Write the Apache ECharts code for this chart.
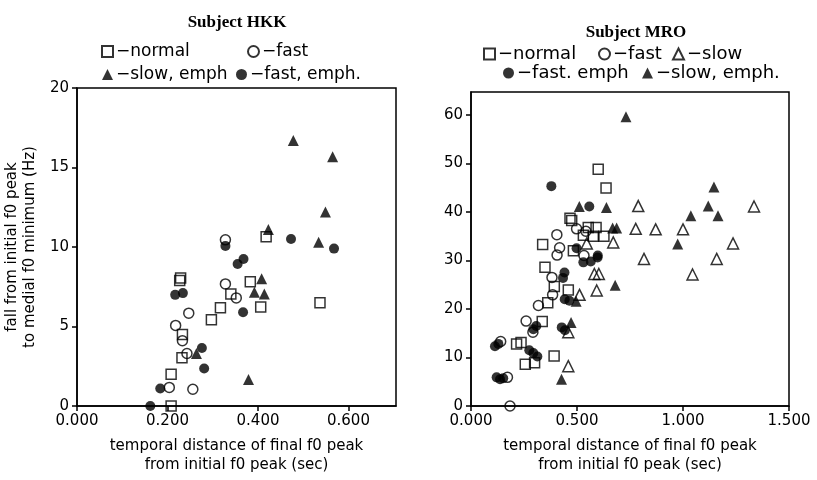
<!DOCTYPE html>
<html>
<head>
<meta charset="utf-8">
<script src="https://cdn.jsdelivr.net/npm/echarts@6/dist/echarts.min.js"></script>
<style>
  html, body { margin: 0; padding: 0; background: #fff; }
  #chart { width: 817px; height: 480px; }
</style>
</head>
<body>
<div id="chart"></div>
<script>
// Subject HKK  [temporal distance (sec), f0 fall (Hz)]
const hkkNormal = [[0.227, 7.9], [0.229, 8.05], [0.418, 10.64], [0.383, 7.82], [0.340, 7.05], [0.537, 6.49],
  [0.317, 6.18], [0.406, 6.22], [0.297, 5.43], [0.233, 4.49], [0.232, 3.03], [0.208, 2.0], [0.208, 0]]
const hkkFast = [[0.328, 10.45], [0.328, 7.68], [0.352, 6.8], [0.247, 5.84], [0.218, 5.07], [0.233, 4.11],
  [0.243, 3.3], [0.204, 1.17], [0.256, 1.05]]
const hkkSlowEmph = [[0.478, 16.7], [0.565, 15.67], [0.549, 12.2], [0.423, 11.1], [0.534, 10.3], [0.408, 8.0],
  [0.392, 7.16], [0.414, 7.05], [0.264, 3.3], [0.379, 1.67]]
const hkkFastEmph = [[0.328, 10.07], [0.473, 10.5], [0.568, 9.9], [0.355, 8.93], [0.368, 9.24], [0.217, 6.99],
  [0.234, 7.1], [0.367, 5.9], [0.276, 3.65], [0.281, 2.36], [0.184, 1.1], [0.162, 0]]

// Subject MRO
const mroNormal = [[0.600, 48.8], [0.637, 44.9], [0.467, 38.7], [0.475, 38.2], [0.553, 36.8], [0.590, 36.8],
  [0.530, 35.2], [0.577, 35.0], [0.627, 35.0], [0.338, 33.3], [0.483, 32.0], [0.349, 28.6], [0.393, 24.6],
  [0.459, 23.9], [0.362, 21.3], [0.336, 17.4], [0.215, 12.8], [0.236, 13.1], [0.392, 10.3], [0.256, 8.6], [0.300, 8.9]]
const mroFast = [[0.498, 36.5], [0.542, 36.0], [0.405, 35.3], [0.418, 32.6], [0.406, 31.1], [0.533, 31.0],
  [0.382, 26.5], [0.385, 22.9], [0.318, 20.7], [0.260, 17.5], [0.292, 15.2], [0.140, 13.3], [0.172, 5.9], [0.184, 0]]
const mroSlow = [[0.789, 41.2], [1.335, 41.1], [0.777, 36.5], [0.871, 36.4], [1.000, 36.4], [0.671, 33.7],
  [0.546, 33.5], [1.236, 33.5], [0.816, 30.3], [1.159, 30.3], [1.045, 27.1], [0.582, 27.2], [0.603, 27.2],
  [0.593, 23.8], [0.512, 22.9], [0.459, 15.2], [0.459, 8.2]]
const mroFastEmph = [[0.379, 45.3], [0.558, 41.1], [0.498, 32.5], [0.598, 31.0], [0.530, 29.6], [0.565, 29.8],
  [0.597, 30.6], [0.441, 27.5], [0.434, 26.4], [0.442, 22.0], [0.464, 21.7], [0.308, 16.5], [0.294, 15.8],
  [0.428, 16.2], [0.443, 15.6], [0.113, 12.3], [0.129, 12.8], [0.275, 11.5], [0.294, 10.9], [0.313, 10.2],
  [0.121, 5.9], [0.137, 5.5], [0.152, 5.7]]
const mroSlowEmph = [[0.731, 59.6], [0.511, 41.1], [0.639, 40.9], [0.668, 36.7], [0.687, 36.7], [1.146, 45.1],
  [1.119, 41.2], [1.037, 39.2], [1.165, 39.2], [0.975, 33.4], [0.680, 24.9], [0.496, 21.6], [0.472, 17.2], [0.427, 5.5]]

// tick labels
const hkkXTicks = [0, 0.2, 0.4, 0.6]
const hkkYTicks = [0, 5, 10, 15, 20]
const mroXTicks = [0, 0.5, 1.0, 1.5]
const mroYTicks = [0, 10, 20, 30, 40, 50, 60]

const font = 'DejaVu Sans'
const xName = 'temporal distance of final f0 peak\nfrom initial f0 peak (sec)'

function xAxis(gridIndex, ticks, max) {
  return {
    type: 'value', gridIndex,
    min: ticks[0], max, interval: ticks[1] - ticks[0],
    name: xName, nameLocation: 'middle', nameGap: 31,
    nameTextStyle: { fontFamily: font, fontSize: 15, color: '#000', lineHeight: 19 },
    axisLine: { lineStyle: { color: '#000', width: 1.5 } },
    axisTick: { length: 5, lineStyle: { color: '#000', width: 1.5 } },
    axisLabel: { fontFamily: font, fontSize: 15, color: '#000', margin: 8, showMaxLabel: max === ticks[ticks.length - 1],
      formatter: v => v.toFixed(3) },
    splitLine: { show: false }
  }
}

function yAxis(gridIndex, ticks, max, name) {
  return {
    type: 'value', gridIndex,
    min: ticks[0], max, interval: ticks[1] - ticks[0],
    name, nameLocation: 'middle', nameGap: 38, nameRotate: 90,
    nameTextStyle: { fontFamily: font, fontSize: 15, color: '#000', lineHeight: 18 },
    axisLine: { lineStyle: { color: '#000', width: 1.5 } },
    axisTick: { length: 5, lineStyle: { color: '#000', width: 1.5 } },
    axisLabel: { fontFamily: font, fontSize: 15, color: '#000', margin: 8, showMaxLabel: max === ticks[ticks.length - 1] },
    splitLine: { show: false }
  }
}

function scatter(name, symbol, filled, data, idx, size) {
  return {
    name, type: 'scatter', xAxisIndex: idx, yAxisIndex: idx,
    symbol, symbolSize: size, data,
    itemStyle: filled
      ? { color: '#000' }
      : { color: 'rgba(0,0,0,0)', borderColor: '#000', borderWidth: 1.5 }
  }
}

// one legend per entry so each can sit where the original has it
function legendItem(name, left, centerY, size) {
  return {
    data: [name], left, top: centerY - Math.round(size * 0.6) + 3, padding: 0,
    itemWidth: 11, itemHeight: 11, selectedMode: false,
    formatter: '\u2212{name}',
    textStyle: { fontFamily: font, fontSize: size, color: '#000', padding: [0, 0, 0, -2] }
  }
}

const myChart = echarts.init(document.getElementById('chart'))

myChart.setOption({
  animation: false,
  title: [
    { text: 'Subject HKK', left: 232, top: 9, textAlign: 'center',
      textStyle: { fontFamily: 'Liberation Serif', fontWeight: 'bold', fontSize: 17, color: '#000' } },
    { text: 'Subject MRO', left: 631, top: 19, textAlign: 'center',
      textStyle: { fontFamily: 'Liberation Serif', fontWeight: 'bold', fontSize: 17, color: '#000' } }
  ],
  legend: [
    legendItem('normal', 101, 50, 17),
    legendItem('fast', 247, 50, 17),
    legendItem('slow, emph', 102, 73, 17),
    legendItem('fast, emph.', 236, 73, 17),
    legendItem('normal', 483, 53, 18),
    legendItem('fast', 598, 53, 18),
    legendItem('slow', 672, 53, 18),
    legendItem('fast. emph', 503, 72, 18),
    legendItem('slow, emph.', 642, 72, 18)
  ],
  grid: [
    { left: 77, top: 88, width: 319, height: 320, show: true, borderColor: '#000', borderWidth: 1.5 },
    { left: 471, top: 92, width: 318, height: 318, show: true, borderColor: '#000', borderWidth: 1.5 }
  ],
  xAxis: [xAxis(0, hkkXTicks, 0.705), xAxis(1, mroXTicks, 1.5)],
  yAxis: [
    yAxis(0, hkkYTicks, 20, 'fall from initial f0 peak\nto medial f0 minimum (Hz)'),
    yAxis(1, mroYTicks, 64.7, '')
  ],
  series: [
    scatter('normal', 'rect', false, hkkNormal, 0, 10),
    scatter('fast', 'circle', false, hkkFast, 0, 10),
    scatter('slow, emph', 'triangle', true, hkkSlowEmph, 0, 11),
    scatter('fast, emph.', 'circle', true, hkkFastEmph, 0, 10),
    scatter('normal', 'rect', false, mroNormal, 1, 10),
    scatter('fast', 'circle', false, mroFast, 1, 10),
    scatter('slow', 'triangle', false, mroSlow, 1, 11),
    scatter('fast. emph', 'circle', true, mroFastEmph, 1, 10),
    scatter('slow, emph.', 'triangle', true, mroSlowEmph, 1, 11)
  ]
})
</script>
</body>
</html>
